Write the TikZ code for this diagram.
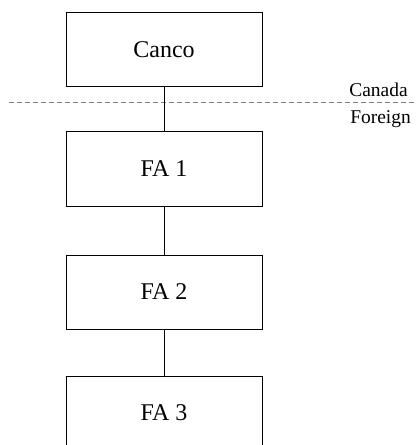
\documentclass[tikz,border=0pt]{standalone}
\usepackage{fontspec}
\setmainfont{Liberation Serif}

\begin{document}
\begin{tikzpicture}[x=0.75pt,y=-0.75pt,
    entity/.style={draw,line width=0.75pt,minimum width=147pt,minimum height=55.5pt,inner sep=0pt,font=\fontsize{18}{20}\selectfont},
    side/.style={anchor=base west,inner sep=0pt,font=\fontsize{14.6}{16}\selectfont}]
    \useasboundingbox (0,0) rectangle (415,445);
    \clip (0,0) rectangle (415,445);

    \node (canco) at (164,50) [entity] {Canco};
    \node (fa1) at (164,169) [entity] {FA 1};
    \node (fa2) at (164,292) [entity] {FA 2};
    \node (fa3) at (164,413) [entity] {FA 3};

    % border between the two countries
    \coordinate (bl) at (9,103);
    \coordinate (br) at (415,103);
    \draw[gray,line width=0.75pt,dash pattern=on 3.75pt off 2.25pt] (bl) -- (br);
    \node (canada) at (349,97) [side] {Canada};
    \node (foreign) at (350,124) [side] {Foreign};

    \draw[line width=0.75pt] (canco) -- (fa1) (fa1) -- (fa2) (fa2) -- (fa3);
\end{tikzpicture}
\end{document}
